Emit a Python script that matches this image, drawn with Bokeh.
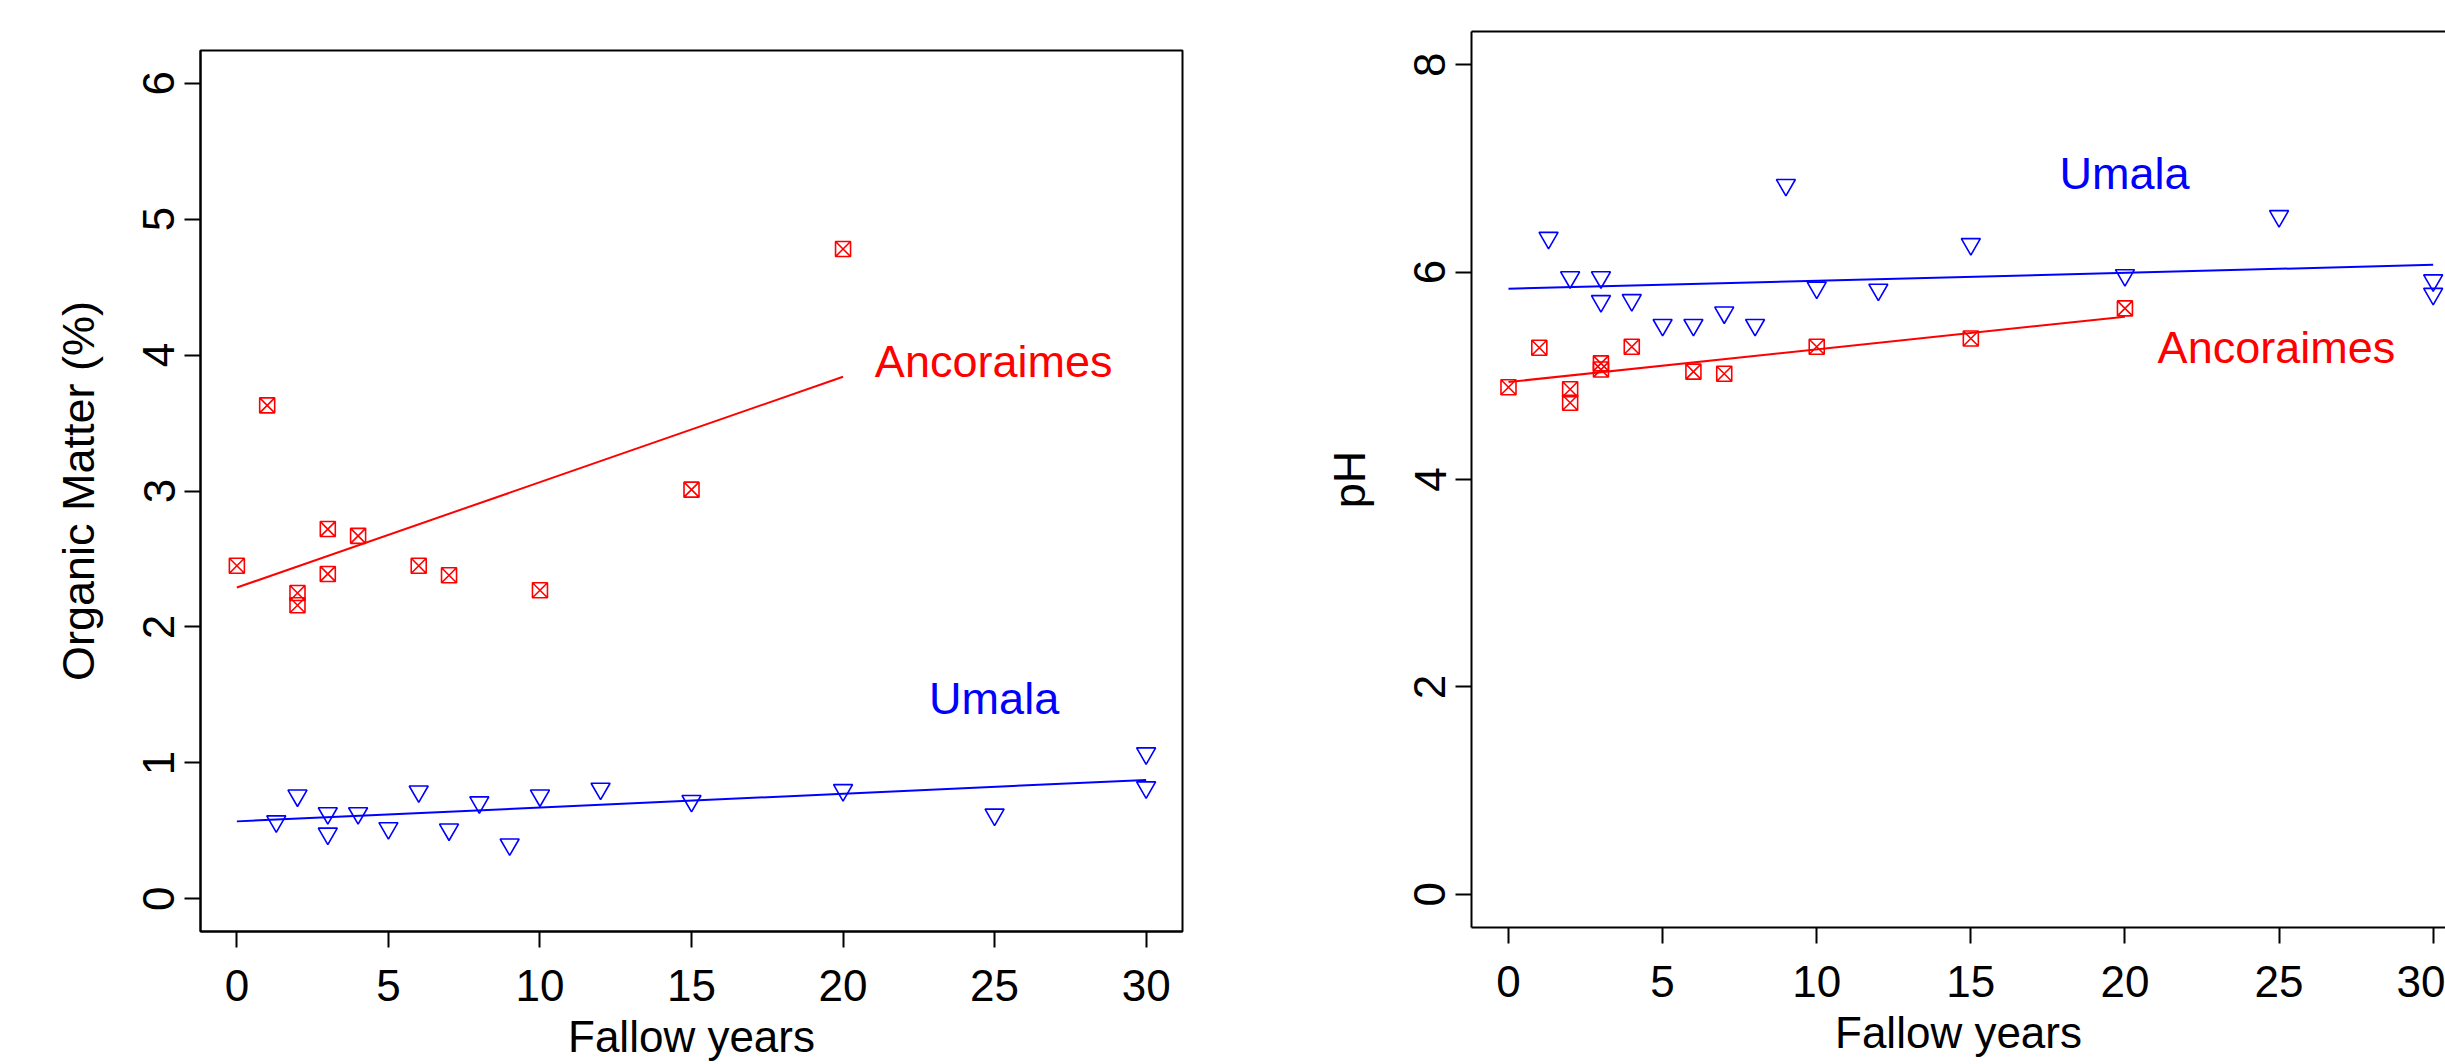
from bokeh.plotting import figure
from bokeh.layouts import row, column
from bokeh.models import Range1d, FixedTicker, LinearAxis
from bokeh.core.properties import value
from bokeh.embed import file_html
from bokeh.resources import INLINE

# ---------------- data ----------------
fallow_anc = [0, 1, 2, 2, 3, 3, 4, 6, 7, 10, 15, 20]
om_anc = [2.45, 3.63, 2.25, 2.16, 2.72, 2.39, 2.67, 2.45, 2.38, 2.27, 3.01, 4.78]
ph_anc = [4.89, 5.27, 4.87, 4.74, 5.12, 5.06, 5.28, 5.04, 5.02, 5.28, 5.36, 5.65]

fallow_uma = [1.3, 2, 3, 3, 4, 5, 6, 7, 8, 9, 10, 12, 15, 20, 25, 30, 30]
om_uma = [0.57, 0.76, 0.63, 0.48, 0.63, 0.52, 0.79, 0.51, 0.71, 0.40, 0.76,
          0.81, 0.72, 0.80, 0.62, 1.07, 0.82]
ph_uma = [6.33, 5.95, 5.95, 5.72, 5.73, 5.49, 5.49, 5.61, 5.49, 6.84, 5.85,
          5.83, 6.27, 5.97, 6.54, 5.92, 5.79]

fit_anc_x = [0, 20]
fit_uma_x = [0, 30]
om_fit_anc = [2.29, 3.84]
om_fit_uma = [0.57, 0.875]
ph_fit_anc = [4.94, 5.57]
ph_fit_uma = [5.84, 6.07]

x_ticks = [0, 5, 10, 15, 20, 25, 30]
om_ticks = [0, 1, 2, 3, 4, 5, 6]
ph_ticks = [0, 2, 4, 6, 8]

site_names = ["Ancoraimes", "Umala"]
x_title = "Fallow years"
om_title = "Organic Matter (%)"
ph_title = "pH"

# ---------------- style ----------------
FONT = "Liberation Sans"
RED = "#FF0000"
BLUE = "#0000FF"
H = 1064


def style_axis(ax):
    ax.major_tick_in = 0
    ax.major_tick_out = 16
    ax.major_tick_line_width = 2
    ax.major_tick_line_color = "black"
    ax.minor_tick_line_color = None
    ax.axis_line_width = 2
    ax.axis_line_color = "black"
    ax.major_label_text_font = FONT
    ax.major_label_text_font_size = "44px"
    ax.major_label_text_color = "black"
    ax.major_label_standoff = 10
    ax.axis_label_text_font = FONT
    ax.axis_label_text_font_size = "44px"
    ax.axis_label_text_font_style = "normal"
    ax.axis_label_text_color = "black"


def make_fig(width, bl, br, bt, bb, xr, yr, yticks, ylabel):
    p = figure(width=width, height=H, x_range=Range1d(*xr), y_range=Range1d(*yr),
               output_backend="svg", toolbar_location=None,
               min_border_left=bl, min_border_right=br,
               min_border_top=bt, min_border_bottom=bb)
    p.xgrid.visible = False
    p.ygrid.visible = False
    p.background_fill_color = "white"
    p.border_fill_color = "white"
    style_axis(p.xaxis[0])
    style_axis(p.yaxis[0])
    p.xaxis.ticker = FixedTicker(ticks=x_ticks)
    p.yaxis.ticker = FixedTicker(ticks=yticks)
    p.yaxis.major_label_orientation = "vertical"
    p.yaxis.axis_label = ylabel
    p.yaxis.axis_label_text_font_size = "45px"
    p.yaxis.axis_label_standoff = 37
    p.xaxis.major_label_standoff = 22
    p.xaxis.axis_label = x_title
    p.xaxis.axis_label_standoff = 8
    return p


def add_text(p, x, y, txt, color):
    p.text(x=[x], y=[y], text=[txt], text_color=color,
           text_font=value(FONT), text_font_size=value("45px"),
           text_align="left", text_baseline="middle")


def add_series(p, ys_anc, ys_uma, fit_a, fit_u):
    p.line(fit_anc_x, fit_a, line_color=RED, line_width=2)
    p.line(fit_uma_x, fit_u, line_color=BLUE, line_width=2)
    p.scatter(fallow_anc, ys_anc, marker="square_x", size=15,
              fill_color=None, line_color=RED, line_width=1.6)
    p.scatter(fallow_uma, ys_uma, marker="inverted_triangle", size=19,
              fill_color=None, line_color=BLUE, line_width=1.6)


# ---------------- left: organic matter ----------------
p1 = make_fig(1300, 200, 118, 50, 133, (-1.2, 31.2), (-0.24, 6.24), om_ticks, om_title)
p1.outline_line_color = "black"
p1.outline_line_width = 2
add_series(p1, om_anc, om_uma, om_fit_anc, om_fit_uma)
add_text(p1, 21.05, 3.956, site_names[0], RED)
add_text(p1, 22.84, 1.472, site_names[1], BLUE)

# ---------------- right: pH (cut at the right edge) ----------------
p2 = make_fig(1145, 171, 0, 31, 137, (-1.2, 30.40), (-0.32, 8.32), ph_ticks, ph_title)
p2.outline_line_color = None
top_ax = LinearAxis(ticker=FixedTicker(ticks=[]), axis_line_width=2,
                    axis_line_color="black", major_tick_line_color=None,
                    minor_tick_line_color=None, major_label_text_font_size="0px")
p2.add_layout(top_ax, "above")
add_series(p2, ph_anc, ph_uma, ph_fit_anc, ph_fit_uma)
add_text(p2, 17.88, 6.947, site_names[1], BLUE)
add_text(p2, 21.06, 5.269, site_names[0], RED)

layout = row(column(p1), column(p2))
open("out.html", "w").write(file_html(layout, INLINE))
